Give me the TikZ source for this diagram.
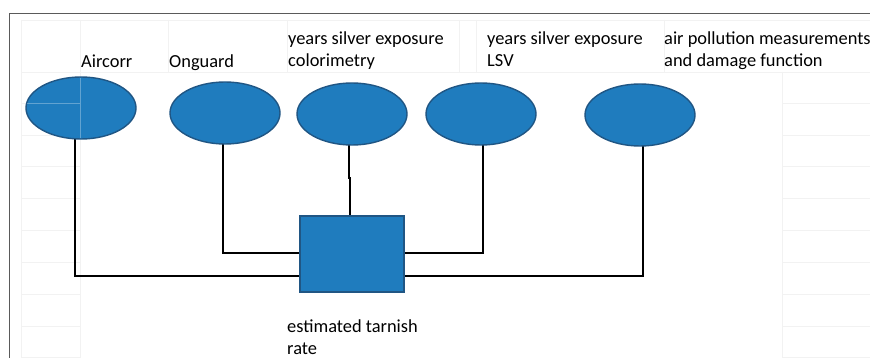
\documentclass[tikz,border=0pt]{standalone}
\usepackage{fontspec}
\setmainfont{Carlito}
\usetikzlibrary{shapes.geometric}
\pgfdeclarelayer{background}
\pgfsetlayers{background,main}
\definecolor{ellfill}{RGB}{31,124,190}
\definecolor{ellborder}{RGB}{32,86,132}
\definecolor{gridc}{RGB}{242,242,242}
\definecolor{framec}{RGB}{90,90,90}
\tikzset{
  oval/.style={ellipse, draw=ellborder, fill=ellfill, line width=1.4pt, minimum width=110pt, minimum height=62pt, inner sep=0pt},
  boxnode/.style={rectangle, draw=ellborder, fill=ellfill, line width=1.4pt, minimum width=104pt, minimum height=76pt, inner sep=0pt},
  lbl/.style={anchor=base west, inner sep=0pt, align=left, font=\fontsize{18.4}{22}\selectfont},
  conn/.style={draw=black, line width=2.7pt, line join=miter},
  gridline/.style={draw=gridc, line width=0.8pt},
}
\begin{document}
\begin{tikzpicture}[x=1pt,y=-1pt]
\useasboundingbox (0,0) rectangle (870,358);
% nodes
\node[oval] (e1) at (81,108) {};
\node[oval] (e2) at (225,113) {};
\node[oval] (e3) at (352,114) {};
\node[oval] (e4) at (481,114) {};
\node[oval] (e5) at (640,115) {};
\node[boxnode] (box) at (352,254) {};
% labels (base anchor = baseline of last line)
\node[lbl] (t1) at (81,68) {Aircorr};
\node[lbl] (t2) at (169,68) {Onguard};
\node[lbl] (t3) at (288,67) {years silver exposure\\colorimetry};
\node[lbl] (t4) at (487,67) {years silver exposure\\LSV};
\node[lbl] (t5) at (664,67) {air pollution measurements\\and damage function};
\node[lbl] (t6) at (287,354) {estimated tarnish\\rate};
% connector corners
\coordinate (j1) at (75,276);
\coordinate (j2) at (223,253);
\coordinate (j3a) at (349,178);
\coordinate (j3b) at (350,178);
\coordinate (j4) at (483,253);
\coordinate (j5) at (643,276);
\begin{pgfonlayer}{background}
  \fill[white] (0,0) rectangle (870,358);
  % faint grid
  \foreach \yy in {20,72} {\draw[gridline] (21,\yy) -- (870,\yy);}
  \foreach \xx in {21,80} {\draw[gridline] (\xx,20) -- (\xx,358);}
  \foreach \xx in {168,287,459,476,664} {\draw[gridline] (\xx,20) -- (\xx,72);}
  \draw[gridline] (782,72) -- (782,358);
  \foreach \yy in {103,135,166,198,230,262,294,326,357} {
    \draw[gridline] (21,\yy) -- (80,\yy);
    \draw[gridline] (782,\yy) -- (870,\yy);
  }
  % connectors
  \draw[conn] (e1.center -| j1) -- (j1) -- (box.center |- j1);
  \draw[conn] (e2.center -| j2) -- (j2) -- (box.center |- j2);
  \draw[conn] (e3.center -| j3a) -- (j3a) -- (j3b) -- (box.center -| j3b);
  \draw[conn] (e4.center -| j4) -- (j4) -- (box.center |- j4);
  \draw[conn] (e5.center -| j5) -- (j5) -- (box.center |- j5);
\end{pgfonlayer}
% faint grid showing over first ellipse
\draw[white, opacity=0.3, line width=0.8pt] (80,78) -- (80,138);
\draw[white, opacity=0.3, line width=0.8pt] (27,103) -- (80,103);
% frame
\draw[framec, line width=1pt] (9,358) -- (9,14) -- (870,14);
\end{tikzpicture}
\end{document}
